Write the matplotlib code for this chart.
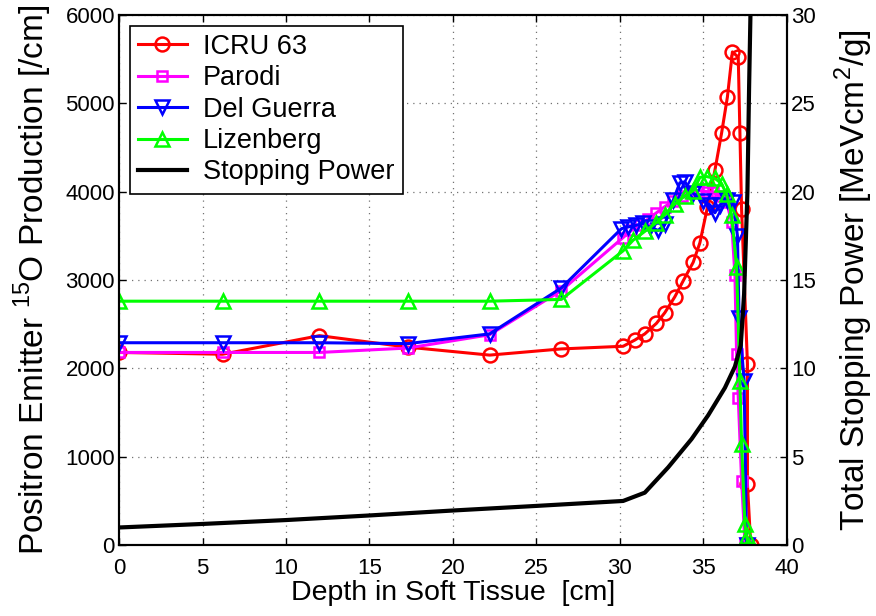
import matplotlib
matplotlib.use("Agg")
import matplotlib.pyplot as plt

plt.rcParams['font.family'] = ['Liberation Sans', 'DejaVu Sans']
plt.rcParams['mathtext.fontset'] = 'custom'
plt.rcParams['mathtext.rm'] = 'Liberation Sans'

# depth [cm] and positron emitter production [/cm] per model
icru_x = [0, 6.2, 12, 17.3, 22.2, 26.5, 30.2, 30.9, 31.5, 32.2, 32.7, 33.3, 33.8,
          34.4, 34.8, 35.25, 35.7, 36.1, 36.45, 36.75, 37.1, 37.2, 37.3, 37.65, 37.65, 37.85]
icru_y = [2180, 2160, 2370, 2240, 2150, 2220, 2250, 2320, 2390, 2510, 2630, 2810, 2990,
          3200, 3420, 3820, 4240, 4660, 5070, 5580, 5520, 4660, 3800, 2050, 690, 0]

parodi_x = [0, 6.2, 12, 17.3, 22.2, 26.5, 30.2, 30.7, 31.2, 31.7, 32.2, 32.7, 33.2, 33.7,
            34.2, 34.7, 35.2, 35.6, 36.0, 36.4, 36.7, 36.9, 37.0, 37.1, 37.3, 37.5, 37.7]
parodi_y = [2180, 2180, 2180, 2230, 2380, 2880, 3480, 3560, 3620, 3690, 3760, 3830, 3890, 3950,
            4000, 4010, 4000, 3990, 3950, 3880, 3660, 3060, 2160, 1670, 730, 30, 0]

guerra_x = [0, 6.2, 12, 17.3, 22.2, 26.5, 30.1, 30.5, 31.0, 31.4, 31.8, 32.3, 32.7, 33.2,
            33.6, 33.9, 34.4, 35.0, 35.4, 35.7, 36.0, 36.4, 36.8, 37.05, 37.15, 37.45, 37.6]
guerra_y = [2290, 2290, 2290, 2280, 2390, 2910, 3580, 3600, 3620, 3640, 3600, 3560, 3630, 3900,
            4100, 4110, 3980, 3890, 3850, 3760, 3850, 3900, 3880, 3500, 2570, 1860, 0]

lizen_x = [0, 6.2, 12, 17.3, 22.2, 26.5, 30.2, 30.8, 31.5, 32.2, 32.7, 33.3, 33.9, 34.4,
           34.8, 35.2, 35.7, 36.1, 36.4, 36.7, 37.0, 37.2, 37.3, 37.5, 37.6, 37.7]
lizen_y = [2760, 2760, 2760, 2760, 2760, 2780, 3330, 3450, 3550, 3650, 3740, 3860, 3950, 4010,
           4160, 4170, 4150, 4090, 3970, 3740, 3150, 1860, 1140, 240, 100, 0]

# total stopping power [MeV cm^2/g]
sp_x = [0, 5, 10, 15, 20, 25, 30.2, 31.5, 32.9, 34.3, 35.3, 36.3, 36.9, 37.25, 37.45,
        37.65, 37.75, 37.85]
sp_y = [1.0, 1.2, 1.42, 1.68, 1.96, 2.22, 2.5, 2.97, 4.4, 6.0, 7.35, 8.9, 10.1, 11.3, 14.2,
        20.0, 25.9, 31.0]

fig = plt.figure(figsize=(8.76, 6.16), dpi=100)
ax = fig.add_axes([0.136, 0.115, 0.762, 0.861])
ax2 = ax.twinx()

lw = 2.2
mew = 1.8
h1, = ax.plot(icru_x, icru_y, color='red', lw=lw, marker='o', ms=10, mfc='none', mew=mew,
              label='ICRU 63')
h2, = ax.plot(parodi_x, parodi_y, color='magenta', lw=lw, marker='s', ms=7, mfc='none',
              mew=mew, label='Parodi')
h3, = ax.plot(guerra_x, guerra_y, color='blue', lw=lw, marker='v', ms=10, mfc='none',
              mew=mew, label='Del Guerra')
h4, = ax.plot(lizen_x, lizen_y, color='lime', lw=lw, marker='^', ms=10, mfc='none',
              mew=mew, label='Lizenberg')
h5, = ax2.plot(sp_x, sp_y, color='black', lw=3, label='Stopping Power')

ax.set_xlim(0, 40)
ax.set_ylim(0, 6000)
ax2.set_ylim(0, 30)
ax.set_xticks(range(0, 41, 5))
ax.set_yticks(range(0, 6001, 1000))
ax2.set_yticks(range(0, 31, 5))

ax.grid(True, linestyle=(0, (1, 4)), color='0.45', lw=0.9)
ax.tick_params(direction='in', length=5, labelsize=16, top=True, width=1)
ax.tick_params(axis='x', pad=9)
ax.tick_params(axis='y', pad=3)
ax2.tick_params(direction='in', length=5, labelsize=16, width=1, pad=3)
for a in (ax, ax2):
    for s in a.spines.values():
        s.set_linewidth(1.5)

ax.set_xlabel('Depth in Soft Tissue  [cm]', fontsize=20.5, labelpad=1)
ax.set_ylabel('Positron Emitter $^{15}$O Production [/cm]', fontsize=24, labelpad=8)
ax2.set_ylabel('Total Stopping Power [MeVcm$^2$/g]', fontsize=24, labelpad=12)

leg = ax2.legend(handles=[h1, h2, h3, h4, h5], loc='upper left', fontsize=19.5,
                 fancybox=False, edgecolor='black', framealpha=1, borderaxespad=0.4,
                 handlelength=1.8, handletextpad=0.6, labelspacing=0.2, borderpad=0.3)
leg.get_frame().set_linewidth(1.2)

fig.savefig('out.png', dpi=100)
